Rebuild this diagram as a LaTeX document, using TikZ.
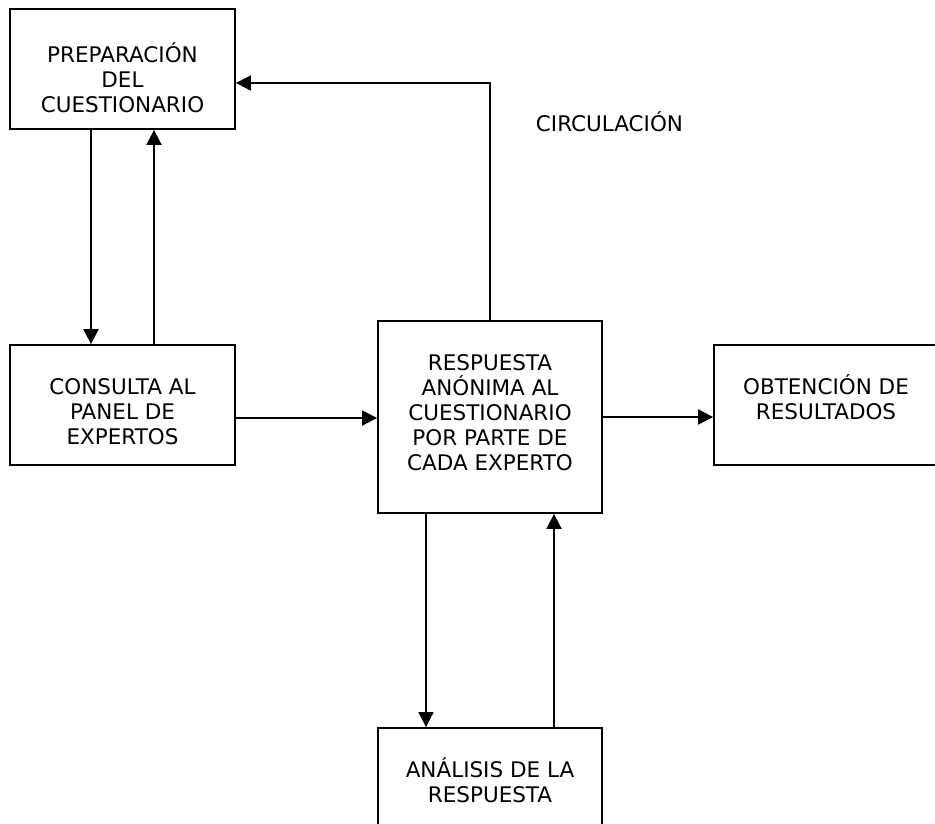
\documentclass[tikz,border=0pt]{standalone}
\usepackage{fontspec}
\setmainfont{DejaVu Sans}
\usetikzlibrary{arrows.meta}
\tikzset{
  box/.style={draw=black, line width=1.8pt, fill=none, rectangle, inner sep=0pt},
  lbl/.style={align=center, font=\fontsize{21.5}{25}\selectfont, inner sep=0pt, anchor=base},
  arr/.style={line width=1.8pt, -{Triangle[length=15pt,width=15pt]}},
}
\begin{document}
\begin{tikzpicture}[x=1pt,y=-1pt]
\useasboundingbox (0,0) rectangle (935,823);
\clip (0,0) rectangle (935,823);
\fill[white] (0,0) rectangle (935,823);
% boxes
\node[box, minimum width=225pt, minimum height=120pt] (b1) at (122.5,69) {};
\node[box, minimum width=225pt, minimum height=120pt] (b2) at (122.5,405) {};
\node[box, minimum width=224pt, minimum height=192pt] (b3) at (490,417) {};
\node[box, minimum width=236pt, minimum height=120pt] (b4) at (832,405) {};
\node[box, minimum width=224pt, minimum height=120pt] (b5) at (490,788) {};
% labels (anchored at baseline of last line)
\node[lbl] (t1) at ([yshift=-104pt]b1.north) {PREPARACIÓN\\DEL\\CUESTIONARIO};
\node[lbl] (t2) at ([yshift=-100pt]b2.north) {CONSULTA AL\\PANEL DE\\EXPERTOS};
\node[lbl] (t3) at ([yshift=-150pt]b3.north) {RESPUESTA\\ANÓNIMA AL\\CUESTIONARIO\\POR PARTE DE\\CADA EXPERTO};
\node[lbl] (t4) at ([yshift=-75pt]b4.north -| 826,0) {OBTENCIÓN DE\\RESULTADOS};
\node[lbl] (t5) at ([yshift=-75pt]b5.north) {ANÁLISIS DE LA\\RESPUESTA};
\node[lbl] (circ) at (609.5,131) {CIRCULACIÓN};
% coordinates
\coordinate (c1) at (490,83);
% connectors
\draw[arr] (b1.south -| 91,0) -- (b2.north -| 91,0);
\draw[arr] (b2.north -| 154,0) -- (b1.south -| 154,0);
\draw[arr] (b3.north) -- (c1) -- (c1 -| b1.east);
\draw[arr] (b2.east |- 0,418) -- (b3.west |- 0,418);
\draw[arr] (b3.east |- 0,417) -- (b4.west |- 0,417);
\draw[arr] (b3.south -| 426,0) -- (b5.north -| 426,0);
\draw[arr] (b5.north -| 554,0) -- (b3.south -| 554,0);
\end{tikzpicture}
\end{document}
